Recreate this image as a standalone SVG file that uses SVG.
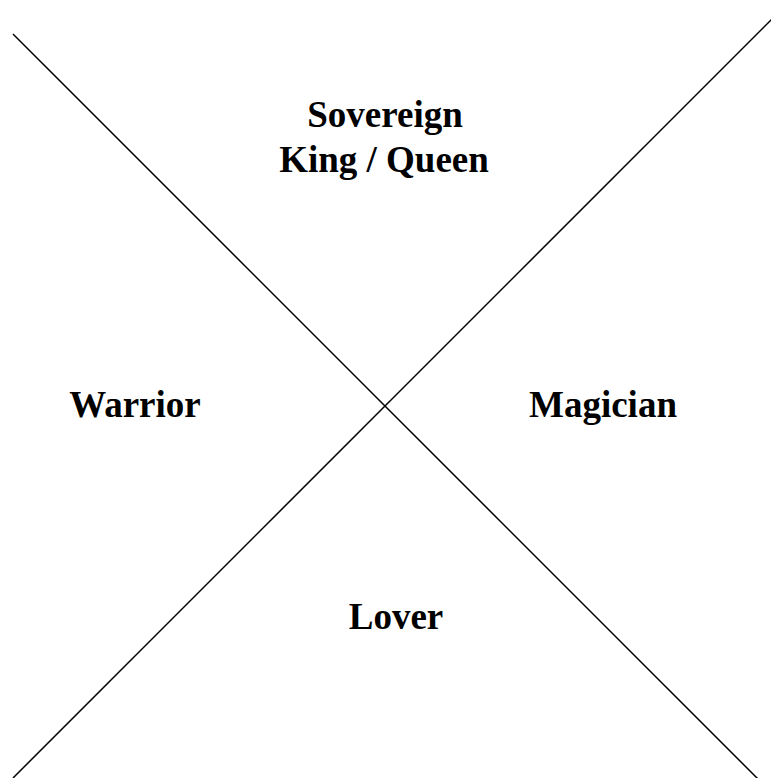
<svg xmlns="http://www.w3.org/2000/svg" width="771" height="778" viewBox="0 0 771 778">
  <style>
    .lbl { font-family: "Liberation Serif", "Times New Roman", serif; font-weight: bold; font-size: 37px; fill: #000; text-anchor: middle; }
    .ln { stroke: #000; stroke-width: 1.5; fill: none; }
  </style>
  <rect width="771" height="778" fill="#fff"/>
  <g id="connectors">
    <line class="ln" x1="13" y1="34" x2="758" y2="779"/>
    <line class="ln" x1="772" y1="19" x2="13" y2="778"/>
  </g>
  <g id="sovereign">
    <text class="lbl" x="385" y="127">Sovereign</text>
    <text class="lbl" x="384" y="172">King / Queen</text>
  </g>
  <g id="warrior">
    <text class="lbl" x="135" y="417">Warrior</text>
  </g>
  <g id="magician">
    <text class="lbl" x="603" y="417">Magician</text>
  </g>
  <g id="lover">
    <text class="lbl" x="396" y="629">Lover</text>
  </g>
</svg>
